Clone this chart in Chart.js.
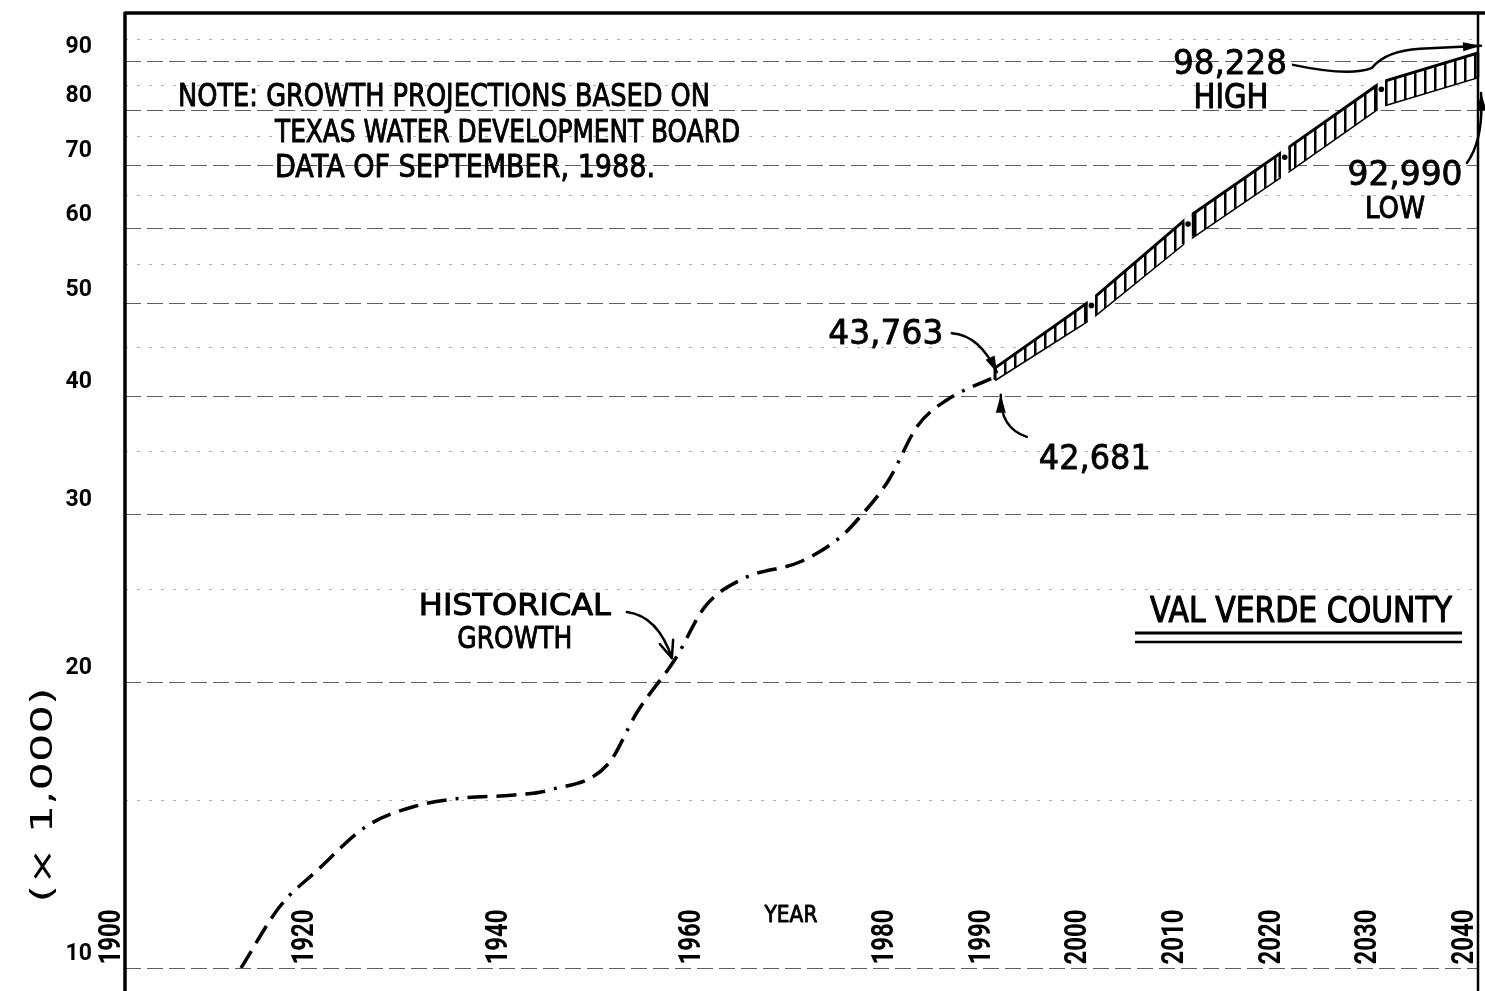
<!DOCTYPE html>
<html>
<head>
<meta charset="utf-8">
<title>Val Verde County population</title>
<script src="https://cdn.jsdelivr.net/npm/chart.js@4.4.1/dist/chart.umd.min.js"></script>
<style>
  html, body { margin:0; padding:0; background:#fff; overflow:hidden; }
  canvas { display:block; }
</style>
</head>
<body>
<canvas id="chart" width="1485" height="991"></canvas>
<script>
// ---------- data (population, thousands) ----------
const histYears = [1912, 1916, 1920, 1925, 1930, 1935, 1940, 1944, 1950, 1953, 1957, 1960, 1964, 1970, 1974, 1976, 1979, 1982, 1985, 1990];
const histPop   = [10.0, 11.6, 12.7, 14.1, 14.8, 15.1, 15.2, 15.4, 16.4, 18.6, 21.2, 24.0, 25.7, 26.8, 28.4, 29.8, 32.6, 37.2, 39.6, 41.9];

const projYears = [1990, 2000, 2010, 2020, 2030, 2040];
const projHigh  = [42.8, 50.5, 61.7, 72.6, 85.6, 91.9];
const projLow   = [41.6, 48.3, 58.4, 68.5, 80.8, 86.7];

const yearTicks  = [1900, 1920, 1940, 1960, 1980, 1990, 2000, 2010, 2020, 2030, 2040];
const majorTicks = [10, 20, 30, 40, 50, 60, 70, 80, 90];
const minorTicks = [15, 25, 35, 45, 55, 65, 75, 85, 95];

const canvas = document.getElementById('chart');
const ctx0 = canvas.getContext('2d');
const DRAFT = '"DejaVu Sans", sans-serif';
const NUMS = 'Roboto, "Liberation Sans", sans-serif';

// vertical hatching for the projection band
function hatchPattern(){
  const t = document.createElement('canvas'); t.width = 10; t.height = 6;
  const g = t.getContext('2d');
  g.fillStyle = '#fff'; g.fillRect(0, 0, 10, 6);
  g.fillStyle = '#000'; g.fillRect(4, 0, 2.5, 6);
  return ctx0.createPattern(t, 'repeat');
}

// text squeezed to a given width, cy = middle of the capitals; thick = extra pen weight
function capText(ctx, txt, x, cy, size, w, align, thick){
  ctx.save();
  ctx.font = size + 'px ' + DRAFT;
  const m = ctx.measureText(txt).width;
  ctx.translate(x, cy + size * 0.365);
  ctx.scale(w / m, 1);
  ctx.textAlign = align || 'center';
  ctx.textBaseline = 'alphabetic';
  ctx.fillStyle = '#000';
  ctx.fillText(txt, 0, 0);
  if (thick){ ctx.strokeStyle = '#000'; ctx.lineWidth = thick; ctx.lineJoin = 'round'; ctx.strokeText(txt, 0, 0); }
  ctx.restore();
}
// text reading bottom to top
function vertText(ctx, txt, cx, cy, font, capH, len){
  ctx.save();
  ctx.translate(cx, cy); ctx.rotate(-Math.PI / 2);
  ctx.font = font;
  const m = ctx.measureText(txt).width;
  ctx.scale(len / m, 1);
  ctx.textAlign = 'center'; ctx.textBaseline = 'alphabetic';
  ctx.fillStyle = '#000';
  ctx.fillText(txt, 0, capH / 2);
  ctx.restore();
}
function arrowHead(ctx, tip, from, len, half, filled){
  const a = Math.atan2(tip.y - from.y, tip.x - from.x);
  const c = Math.cos(a), s = Math.sin(a);
  const bx = tip.x - len * c, by = tip.y - len * s;
  ctx.beginPath();
  ctx.moveTo(bx + half * s, by - half * c);
  ctx.lineTo(tip.x, tip.y);
  ctx.lineTo(bx - half * s, by + half * c);
  if (filled){ ctx.closePath(); ctx.fill(); } else ctx.stroke();
}
const off = (p, dx, dy) => ({x: p.x + dx, y: p.y + dy});

const notes = {
  id: 'notes',
  afterDatasetsDraw(chart){
    // break the band at every decade, like the drawn segments
    const {ctx, scales:{x, y}} = chart;
    const hi = projYears.map((yr, i) => ({x: x.getPixelForValue(yr), y: y.getPixelForValue(projHigh[i])}));
    const lo = projYears.map((yr, i) => ({x: x.getPixelForValue(yr), y: y.getPixelForValue(projLow[i])}));
    const along = (pts, i, dx) => {
      const j = dx < 0 ? i - 1 : i + 1;
      const t = Math.abs(dx) / Math.abs(pts[j].x - pts[i].x);
      return pts[i].y + (pts[j].y - pts[i].y) * t;
    };
    ctx.save();
    ctx.strokeStyle = '#000'; ctx.lineWidth = 2.5;
    const n = projYears.length;
    ctx.beginPath();
    ctx.moveTo(hi[0].x, hi[0].y); ctx.lineTo(lo[0].x, lo[0].y);
    ctx.moveTo(hi[n-1].x, hi[n-1].y); ctx.lineTo(lo[n-1].x, lo[n-1].y);
    ctx.stroke();
    const g = 5;
    for (let i = 1; i < n - 1; i++){
      const xl = hi[i].x - g, xr = hi[i].x + g;
      const hl = along(hi, i, -g), hr = along(hi, i, g), ll = along(lo, i, -g), lr = along(lo, i, g);
      ctx.fillStyle = '#fff';
      ctx.beginPath();
      ctx.moveTo(xl + 1.3, hl - 3); ctx.lineTo(xr - 1.3, hr - 3);
      ctx.lineTo(xr - 1.3, lr + 3); ctx.lineTo(xl + 1.3, ll + 3);
      ctx.closePath(); ctx.fill();
      ctx.beginPath();
      ctx.moveTo(xl, hl); ctx.lineTo(xl, ll);
      ctx.moveTo(xr, hr); ctx.lineTo(xr, lr);
      ctx.stroke();
      ctx.fillStyle = '#000';
      ctx.beginPath();
      ctx.arc(hi[i].x, hi[i].y + (lo[i].y - hi[i].y) * 0.3, 2.8, 0, Math.PI * 2);
      ctx.fill();
    }
    ctx.restore();
  },
  afterDraw(chart){
    const {ctx, chartArea: ca, scales:{x, y}} = chart;
    const P = (yr, v) => ({x: x.getPixelForValue(yr), y: y.getPixelForValue(v)});
    ctx.save();
    ctx.strokeStyle = '#000'; ctx.fillStyle = '#000';
    ctx.lineCap = 'round'; ctx.lineJoin = 'round';

    // frame
    ctx.lineWidth = 3.5;
    ctx.beginPath();
    ctx.moveTo(ca.left, chart.height); ctx.lineTo(ca.left, ca.top - 5); ctx.lineTo(chart.width, ca.top - 5);
    ctx.stroke();
    ctx.lineWidth = 2.5;
    ctx.beginPath(); ctx.moveTo(ca.right, ca.top - 5); ctx.lineTo(ca.right, chart.height); ctx.stroke();

    // year labels, inside the grid
    yearTicks.forEach(yr => vertText(ctx, String(yr), x.getPixelForValue(yr) - 16, ca.bottom - 31,
      'bold 32px ' + NUMS, 22, 55));
    capText(ctx, 'YEAR', ca.left + 666, ca.bottom - 54, 23, 53, 'center', 0.9);
    vertText(ctx, '(× 1,000)', ca.left - 84, ca.bottom - 173, '30px ' + DRAFT, 22, 215);

    // note
    capText(ctx, 'NOTE: GROWTH PROJECTIONS BASED ON', ca.left + 53, ca.top + 76, 32, 532, 'left', 1);
    capText(ctx, 'TEXAS WATER DEVELOPMENT BOARD', ca.left + 150, ca.top + 112, 32, 465, 'left', 1);
    capText(ctx, 'DATA OF SEPTEMBER, 1988.', ca.left + 150, ca.top + 147, 32, 380, 'left', 1);

    // county title with double underline
    capText(ctx, 'VAL VERDE COUNTY', ca.right - 177, ca.bottom - 359, 35, 302, 'center', 1.2);
    ctx.lineCap = 'butt';
    ctx.lineWidth = 3;
    ctx.beginPath(); ctx.moveTo(ca.right - 343, ca.bottom - 335); ctx.lineTo(ca.right - 16, ca.bottom - 335); ctx.stroke();
    ctx.lineWidth = 2.5;
    ctx.beginPath(); ctx.moveTo(ca.right - 343, ca.bottom - 326); ctx.lineTo(ca.right - 16, ca.bottom - 326); ctx.stroke();
    ctx.lineCap = 'round';

    ctx.lineWidth = 2.5;
    // 1990 high value
    const a1 = P(projYears[0], projHigh[0]);
    capText(ctx, '43,763', a1.x - 109, a1.y - 36, 33, 115, 'center', 0.8);
    let s = off(a1, -43, -35), c = off(a1, -15, -33), e = off(a1, 2, 4);
    ctx.lineWidth = 2.5;
    ctx.beginPath(); ctx.moveTo(s.x, s.y); ctx.quadraticCurveTo(c.x, c.y, e.x, e.y); ctx.stroke();
    arrowHead(ctx, e, c, 16, 5, true);

    // 1990 low value
    const a2 = P(projYears[0], projLow[0]);
    capText(ctx, '42,681', a2.x + 100, a2.y + 77, 33, 112, 'center', 0.8);
    s = off(a2, 32, 57); c = off(a2, 5, 48); e = off(a2, 6, 15);
    ctx.beginPath(); ctx.moveTo(s.x, s.y); ctx.quadraticCurveTo(c.x, c.y, e.x, e.y); ctx.stroke();
    arrowHead(ctx, e, off(a2, 6, 40), 18, 5, true);

    // 2040 high value
    const last = projYears.length - 1;
    const a3 = P(projYears[last], projHigh[last]);
    capText(ctx, '98,228', a3.x - 248, a3.y + 9, 33, 114, 'center', 0.8);
    capText(ctx, 'HIGH', a3.x - 247, a3.y + 43, 33, 75, 'center', 1);
    s = off(a3, -185, 12);
    const q1 = off(a3, -128, 24), m1 = off(a3, -106, 15), q2 = off(a3, -92, -2), m2 = off(a3, -58, -4);
    e = off(a3, 3, -7);
    ctx.beginPath(); ctx.moveTo(s.x, s.y);
    ctx.quadraticCurveTo(q1.x, q1.y, m1.x, m1.y);
    ctx.quadraticCurveTo(q2.x, q2.y, m2.x, m2.y);
    ctx.lineTo(e.x, e.y); ctx.stroke();
    arrowHead(ctx, e, m2, 18, 4.5, true);

    // 2040 low value
    const a4 = P(projYears[last], projLow[last]);
    capText(ctx, '92,990', a4.x - 73, a4.y + 96, 33, 115, 'center', 0.8);
    capText(ctx, 'LOW', a4.x - 83, a4.y + 130, 30, 60, 'center', 1);
    s = off(a4, -11, 86); c = off(a4, 6, 62); e = off(a4, 3, 16);
    ctx.beginPath(); ctx.moveTo(s.x, s.y); ctx.quadraticCurveTo(c.x, c.y, e.x, e.y); ctx.stroke();
    arrowHead(ctx, e, off(a4, 4, 40), 18, 5, true);

    // historical growth label
    const k = histYears.indexOf(1957);
    const a5 = P(histYears[k], histPop[k]);
    capText(ctx, 'HISTORICAL', a5.x - 161, a5.y - 54, 30, 192, 'center', 1);
    capText(ctx, 'GROWTH', a5.x - 161, a5.y - 21, 30, 115, 'center', 1);
    s = off(a5, -49, -46); c = off(a5, -18, -42); e = off(a5, -4, 0);
    ctx.beginPath(); ctx.moveTo(s.x, s.y); ctx.quadraticCurveTo(c.x, c.y, e.x, e.y); ctx.stroke();
    arrowHead(ctx, e, c, 17, 7, false);

    ctx.restore();
  }
};

new Chart(canvas, {
  type: 'line',
  data: {
    datasets: [
      { label: 'Historical growth',
        data: histYears.map((yr, i) => ({x: yr, y: histPop[i]})),
        borderColor: '#000', borderWidth: 3.5, borderDash: [20, 9, 20, 9, 20, 9, 3, 9],
        pointRadius: 0, cubicInterpolationMode: 'monotone', fill: false },
      { label: 'High projection',
        data: projYears.map((yr, i) => ({x: yr, y: projHigh[i]})),
        borderColor: '#000', borderWidth: 3, pointRadius: 0, tension: 0,
        fill: '+1', backgroundColor: hatchPattern() },
      { label: 'Low projection',
        data: projYears.map((yr, i) => ({x: yr, y: projLow[i]})),
        borderColor: '#000', borderWidth: 3, pointRadius: 0, tension: 0, fill: false }
    ]
  },
  options: {
    responsive: false, animation: false, devicePixelRatio: 1,
    layout: { autoPadding: false, padding: { left: 0, top: 18, right: 7, bottom: 23 } },
    plugins: { legend: { display: false }, tooltip: { enabled: false } },
    scales: {
      x: { type: 'linear', min: 1900, max: 2040, display: false },
      y: { type: 'logarithmic', position: 'left', min: 10, max: 100,
        afterFit: s => { s.width = 125; s.paddingTop = 0; s.paddingBottom = 0; },
        afterBuildTicks: s => { s.ticks = majorTicks.map(v => ({value: v})); },
        ticks: { autoSkip: false, padding: 33, labelOffset: -14, color: '#000',
          font: { family: NUMS, size: 23, weight: 'bold' },
          callback: v => String(v) },
        grid: { color: 'rgba(40,40,40,0.75)', lineWidth: 1, drawTicks: false },
        border: { display: false, dash: [16, 6] } },
      yMinor: { type: 'logarithmic', position: 'left', min: 10, max: 100,
        afterFit: s => { s.width = 0; s.paddingTop = 0; s.paddingBottom = 0; },
        afterBuildTicks: s => { s.ticks = minorTicks.map(v => ({value: v})); },
        ticks: { display: false },
        grid: { color: 'rgba(110,110,110,0.55)', lineWidth: 1, drawTicks: false },
        border: { display: false, dash: [3, 9] } }
    }
  },
  plugins: [notes]
});
</script>
</body>
</html>
